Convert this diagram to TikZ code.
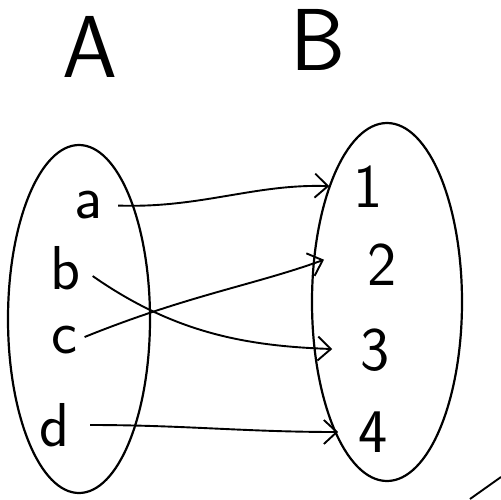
\documentclass[tikz,border=0pt]{standalone}
\usetikzlibrary{shapes.geometric,arrows.meta}
\begin{document}
\begin{tikzpicture}[x=1pt,y=-1pt,
  lbl/.style={font=\sffamily\fontsize{62}{62}\selectfont, inner sep=0pt},
  big/.style={font=\sffamily\fontsize{88}{88}\selectfont, inner sep=0pt},
  setshape/.style={draw, ellipse, line width=2.2pt, inner sep=0pt},
  maparrow/.style={line width=1.9pt, -{Straight Barb[length=13pt,width=24pt]}}]
\useasboundingbox (0,0) rectangle (501,499);
\node[big] (A) at (90,47) {A};
\node[big] (B) at (318,40) {B};
\node[setshape, minimum width=142, minimum height=348] (SA) at (79,319) {};
\node[setshape, minimum width=150, minimum height=358] (SB) at (387,302) {};
\node[lbl] (a) at (88,205) {a};
\node[lbl] (b) at (66,268) {b};
\node[lbl] (c) at (64,340) {c};
\node[lbl] (d) at (55,425) {d};
\node[lbl] (n1) at (368,187) {1};
\node[lbl] (n2) at (382,265) {2};
\node[lbl] (n3) at (375,350) {3};
\node[lbl] (n4) at (373,432) {4};
\draw[maparrow, shorten <=16pt, shorten >=24pt] (a.east) to[out=-2,in=178] (n1.west);
\draw[maparrow, shorten <=14pt, shorten >=28pt] (b.east) to[out=-35,in=178] (n3.west);
\draw[maparrow, shorten <=8pt, shorten >=46pt] (c.east) to[out=22,in=200] (n2.north west);
\draw[maparrow, shorten <=20pt, shorten >=20pt] (d.east) to[out=0,in=180] (n4.west);
\coordinate (e1) at (470,499);
\coordinate (e2) at (501,477);
\draw[line width=1.9pt] (e1) -- (e2);
\end{tikzpicture}
\end{document}
